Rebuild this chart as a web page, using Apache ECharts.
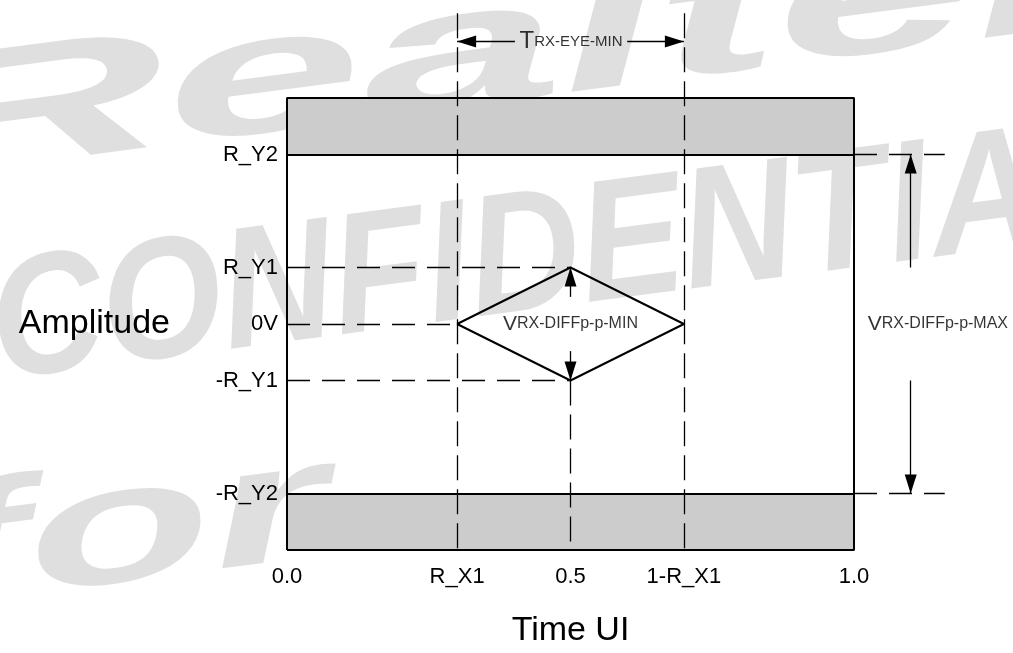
<!DOCTYPE html>
<html><head><meta charset="utf-8">
<script src="https://cdn.jsdelivr.net/npm/echarts@6/dist/echarts.min.js"></script>
<style>html,body{margin:0;padding:0;background:#fff}#c{width:1013px;height:653px}</style>
</head><body><div id="c"></div>
<script>
// ---- data ----
const xTickValues = [0, 0.3, 0.5, 0.7, 1.0];
const xTickLabels = ['0.0', 'R_X1', '0.5', '1-R_X1', '1.0'];
const yTickValues = [-0.75, -0.25, 0, 0.25, 0.75];
const yTickLabels = ['-R_Y2', '-R_Y1', '0V', 'R_Y1', 'R_Y2'];
const bands = [[0.75, 1], [-1, -0.75]];
const frame = [[0, -1], [1, -1], [1, 1], [0, 1], [0, -1]];
const limitLines = [[[0, 0.75], [1, 0.75]], [[0, -0.75], [1, -0.75]]];
const diamond = [[0.3, 0], [0.5, 0.25], [0.7, 0], [0.5, -0.25], [0.3, 0]];
const vDashed = [[[0.3, 1.375], [0.3, -1]], [[0.7, 1.375], [0.7, -1]], [[0.5, -0.25], [0.5, -1]]];
const hDashed = [[[0, 0.25], [0.5, 0.25]], [[0, 0], [0.3, 0]], [[0, -0.25], [0.5, -0.25]],
                 [[1, 0.75], [1.16, 0.75]], [[1, -0.75], [1.16, -0.75]]];
// arrow shafts: [start, tip]
const arrowShafts = [[[0.402, 1.25], [0.3, 1.25]], [[0.600, 1.25], [0.7, 1.25]],
                     [[1.1, 0.25], [1.1, 0.75]], [[1.1, -0.25], [1.1, -0.75]],
                     [[0.5, 0.12], [0.5, 0.25]], [[0.5, -0.12], [0.5, -0.25]]];
const arrowDir = ['left', 'right', 'up', 'down', 'up', 'down'];
const annoPos = [[0.501, 1.25], [0.5, 0], [1.148, 0]];
const annoMain = ['T', 'V', 'V'];
const annoSub = ['RX-EYE-MIN', 'RX-DIFFp-p-MIN', 'RX-DIFFp-p-MAX'];
const watermark = ['Realtek', 'CONFIDENTIAL', 'for'];

const FONT = '"Liberation Sans", Arial, sans-serif';
function pick(values, labels) {
  return function (v) {
    for (let i = 0; i < values.length; i++) if (Math.abs(v - values[i]) < 1e-6) return labels[i];
    return '';
  };
}
const HEAD_W = 12, HEAD_L = 19;
const dirRotate = { up: 0, down: 180, left: 90, right: -90 };
const dirOffset = { up: [0, HEAD_L / 2], down: [0, -HEAD_L / 2], left: [HEAD_L / 2, 0], right: [-HEAD_L / 2, 0] };

const chart = echarts.init(document.getElementById('c'));
const wmFont = (s) => 'italic bold ' + s + 'px "Liberation Sans", Arial, sans-serif';
chart.setOption({
  animation: false,
  backgroundColor: '#ffffff',
  graphic: {
    elements: [
      { type: 'text', z: -10, x: -90, y: 131, rotation: 0.13, scaleX: 2.1, silent: true,
        style: { text: watermark[0], font: wmFont(170), fill: '#dfdfdf', textAlign: 'left', textVerticalAlign: 'middle' } },
      { type: 'text', z: -10, x: -8, y: 332, rotation: 0.13, scaleX: 0.9, silent: true,
        style: { text: watermark[1], font: wmFont(172), fill: '#dfdfdf', textAlign: 'left', textVerticalAlign: 'middle' } },
      { type: 'text', z: -10, x: -72, y: 560, rotation: 0.13, scaleX: 1.8, silent: true,
        style: { text: watermark[2], font: wmFont(168), fill: '#dfdfdf', textAlign: 'left', textVerticalAlign: 'middle' } }
    ]
  },
  grid: { left: 287, right: 159, top: 98, bottom: 102, containLabel: false },
  xAxis: {
    type: 'value', min: 0, max: 1, interval: 0.1,
    name: 'Time UI', nameLocation: 'middle', nameGap: 64,
    nameTextStyle: { fontFamily: FONT, fontSize: 34, color: '#000' },
    axisLine: { show: false }, axisTick: { show: false }, splitLine: { show: false },
    axisLabel: { formatter: pick(xTickValues, xTickLabels), fontFamily: FONT, fontSize: 22, color: '#000', margin: 16, showMinLabel: true, showMaxLabel: true }
  },
  yAxis: {
    type: 'value', min: -1, max: 1, interval: 0.25,
    name: 'Amplitude', nameLocation: 'middle', nameGap: 117, nameRotate: 0,
    nameTextStyle: { fontFamily: FONT, fontSize: 34, color: '#000' },
    axisLine: { show: false }, axisTick: { show: false }, splitLine: { show: false },
    axisLabel: { formatter: pick(yTickValues, yTickLabels), fontFamily: FONT, fontSize: 22, color: '#000', margin: 9, showMinLabel: true, showMaxLabel: true }
  },
  series: [
    { type: 'line', z: 1, data: [], silent: true,
      markArea: { silent: true, itemStyle: { color: '#cccccc', opacity: 1, borderWidth: 0 },
        data: bands.map(b => [{ yAxis: b[0] }, { yAxis: b[1] }]) } },
    { type: 'lines', coordinateSystem: 'cartesian2d', z: 3, clip: false, silent: true,
      lineStyle: { color: '#000', width: 1.3, type: [25, 9], opacity: 1 },
      data: vDashed.map(c => ({ coords: c })) },
    { type: 'lines', coordinateSystem: 'cartesian2d', z: 3, clip: false, silent: true,
      lineStyle: { color: '#000', width: 1.3, type: [23, 12], opacity: 1 },
      data: hDashed.map(c => ({ coords: c })) },
    { type: 'line', z: 5, clip: false, silent: true, symbol: 'none', data: frame,
      lineStyle: { color: '#000', width: 2 } },
    { type: 'lines', coordinateSystem: 'cartesian2d', z: 5, clip: false, silent: true,
      lineStyle: { color: '#000', width: 2, type: 'solid', opacity: 1 },
      data: limitLines.map(c => ({ coords: c })) },
    { type: 'line', z: 6, clip: false, silent: true, symbol: 'none', data: diamond,
      lineStyle: { color: '#000', width: 2 } },
    { type: 'lines', coordinateSystem: 'cartesian2d', z: 7, clip: false, silent: true,
      lineStyle: { color: '#000', width: 1.3, type: 'solid', opacity: 1 },
      data: arrowShafts.map(c => ({ coords: c })) },
    { type: 'scatter', z: 8, clip: false, silent: true, symbol: 'triangle',
      symbolSize: [HEAD_W, HEAD_L], itemStyle: { color: '#000', opacity: 1 },
      data: arrowShafts.map((c, i) => ({ value: c[1],
        symbolRotate: dirRotate[arrowDir[i]], symbolOffset: dirOffset[arrowDir[i]] })) },
    { type: 'scatter', z: 9, clip: false, silent: true, symbolSize: 0,
      data: annoPos.map((p, i) => ({ value: p,
        label: { show: true, position: 'inside',
          formatter: i === 0 ? '{tm|' + annoMain[i] + '}{ts|' + annoSub[i] + '}' : '{m|' + annoMain[i] + '}{s|' + annoSub[i] + '}' } })),
      label: { show: true, color: '#000',
        rich: {
          tm: { fontFamily: FONT, fontSize: 24, color: '#000' },
          ts: { fontFamily: FONT, fontSize: 15, color: '#000' },
          m: { fontFamily: FONT, fontSize: 21, color: '#000' },
          s: { fontFamily: FONT, fontSize: 16, color: '#000' }
        } } }
  ]
});
</script>
</body></html>
